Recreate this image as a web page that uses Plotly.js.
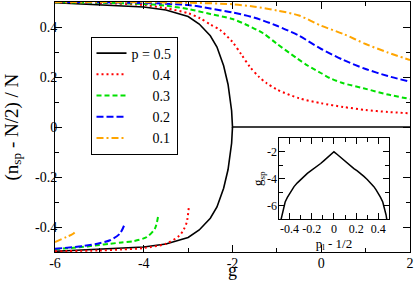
<!DOCTYPE html>
<html>
<head>
<meta charset="utf-8">
<script src="https://cdn.plot.ly/plotly-3.0.1.min.js"></script>
<style>html,body{margin:0;padding:0;background:#fff}#chart{width:415px;height:284px}</style>
</head>
<body>
<div id="chart"></div>
<script>
// ---- main panel: (n_sp - N/2)/N versus g ----
// p = 0.5 (black): upper branch, then zero line to g = 2
const gP05Upper = [-6, -5, -4.5, -4, -3.5, -3, -2.75, -2.5, -2.35, -2.2, -2.1, -2.05, -2.02, -2, 2];
const nP05Upper = [0.497, 0.49, 0.486, 0.48, 0.468, 0.442, 0.412, 0.365, 0.32, 0.245, 0.17, 0.115, 0.065, 0, 0];
const gP05Lower = [-6, -5, -4.5, -4, -3.5, -3, -2.75, -2.5, -2.35, -2.2, -2.1, -2.05, -2.02, -2];
const nP05Lower = [-0.497, -0.49, -0.486, -0.48, -0.468, -0.442, -0.412, -0.365, -0.32, -0.245, -0.17, -0.115, -0.065, 0];

// p = 0.4 (red dotted)
const gP04Upper = [-6, -5, -4, -3.5, -3, -2.73, -2.5, -2.28, -2, -1.8, -1.61, -1.4, -1.23, -1, -0.5, 0, 0.5, 1, 1.5, 2];
const nP04Upper = [0.499, 0.496, 0.488, 0.475, 0.455, 0.435, 0.41, 0.388, 0.34, 0.29, 0.241, 0.2, 0.175, 0.15, 0.115, 0.095, 0.08, 0.068, 0.06, 0.055];
const gP04Lower = [-6, -5, -4.5, -4, -3.5, -3.2, -3.1, -3.03, -2.98];
const nP04Lower = [-0.497, -0.494, -0.49, -0.484, -0.467, -0.435, -0.41, -0.38, -0.313];

// p = 0.3 (green dashed)
const gP03Upper = [-6, -5, -4, -3.5, -3, -2.5, -2, -1.7, -1.31, -1, -0.55, -0.3, 0, 0.2, 0.5, 0.95, 1.5, 2];
const nP03Upper = [0.499, 0.497, 0.492, 0.485, 0.472, 0.452, 0.432, 0.41, 0.375, 0.333, 0.275, 0.245, 0.215, 0.195, 0.175, 0.155, 0.13, 0.112];
const gP03Lower = [-6, -5.5, -5, -4.76, -4.5, -4.24, -3.93, -3.75, -3.67];
const nP03Lower = [-0.488, -0.482, -0.472, -0.467, -0.462, -0.457, -0.44, -0.407, -0.351];

// p = 0.2 (blue dashed)
const gP02Upper = [-6, -5, -4, -3, -2.5, -2, -1.5, -1, -0.5, 0, 0.5, 1, 1.5, 2];
const nP02Upper = [0.5, 0.499, 0.496, 0.488, 0.474, 0.458, 0.437, 0.405, 0.365, 0.312, 0.268, 0.232, 0.204, 0.181];
const gP02Lower = [-6, -5.36, -5, -4.76, -4.54, -4.42];
const nP02Lower = [-0.487, -0.476, -0.465, -0.453, -0.427, -0.384];

// p = 0.1 (orange dash-dot)
const gP01Upper = [-6, -4, -3, -2, -1.5, -1, -0.5, 0, 0.5, 1, 1.5, 2];
const nP01Upper = [0.5, 0.499, 0.497, 0.491, 0.481, 0.466, 0.446, 0.405, 0.372, 0.332, 0.298, 0.268];
const gP01Lower = [-6, -5.74, -5.6, -5.51];
const nP01Lower = [-0.46, -0.44, -0.428, -0.413];

// ---- inset: g_sp versus p - 1/2 ----
const pInset = [-0.478, -0.475, -0.47, -0.46, -0.45, -0.44, -0.42, -0.4, -0.38, -0.36, -0.33, -0.3, -0.27, -0.24, -0.21, -0.18, -0.15, -0.12, -0.09, -0.06, -0.03, 0,
                0.03, 0.06, 0.09, 0.12, 0.15, 0.18, 0.21, 0.24, 0.27, 0.3, 0.33, 0.36, 0.38, 0.4, 0.42, 0.44, 0.45, 0.46, 0.47, 0.475, 0.478];
const gInset = [-7.05, -6.95, -6.68, -6.3, -5.98, -5.72, -5.38, -5.08, -4.82, -4.58, -4.3, -4.05, -3.82, -3.6, -3.42, -3.25, -3.07, -2.87, -2.65, -2.42, -2.2, -2.0,
                -2.2, -2.42, -2.65, -2.87, -3.07, -3.25, -3.42, -3.6, -3.82, -4.05, -4.3, -4.58, -4.82, -5.08, -5.38, -5.72, -5.98, -6.3, -6.68, -6.95, -7.05];

// ---- labels ----
const seriesNames = ['p = 0.5', '\u2007\u2007\u20070.4', '\u2007\u2007\u20070.3', '\u2007\u2007\u20070.2', '\u2007\u2007\u20070.1'];
const xTitle = 'g';
const yTitle = '(n<sub>sp</sub> - N/2) / N';
const xTickVals = [-6, -4, -2, 0, 2];
const xTickText = ['-6', '-4', '-2', '0', '2'];
const yTickVals = [-0.4, -0.2, 0, 0.2, 0.4];
const yTickText = ['-0.4', '-0.2', '0', '0.2', '0.4'];
const insetXTickVals = [-0.4, -0.2, 0, 0.2, 0.4];
const insetXTickText = ['-0.4', '-0.2', '0', '0.2', '0.4'];
const insetYTickVals = [-6, -4, -2];
const insetYTickText = ['-6', '-4', '-2'];

const FONT = 'Liberation Serif, Times New Roman, serif';
const colors = ['#000000', '#ff0000', '#00e000', '#0000ff', '#ffa500'];
const dashes = ['solid', '2px,3px', '5px,3px', '7px,3px', '7px,3px,2px,3px'];
const widths = [1.6, 2, 2, 2, 2];

const uppers = [[gP05Upper, nP05Upper], [gP04Upper, nP04Upper], [gP03Upper, nP03Upper], [gP02Upper, nP02Upper], [gP01Upper, nP01Upper]];
const lowers = [[gP05Lower, nP05Lower], [gP04Lower, nP04Lower], [gP03Lower, nP03Lower], [gP02Lower, nP02Lower], [gP01Lower, nP01Lower]];

const traces = [];
uppers.forEach((s, i) => {
  traces.push({
    x: s[0], y: s[1], type: 'scatter', mode: 'lines', name: seriesNames[i],
    legendgroup: 'g' + i, showlegend: true,
    line: {color: colors[i], dash: dashes[i], width: widths[i], shape: i === 0 ? 'linear' : 'spline', smoothing: 0.8},
    xaxis: 'x', yaxis: 'y', hoverinfo: 'skip'
  });
});
lowers.forEach((s, i) => {
  traces.push({
    x: s[0], y: s[1], type: 'scatter', mode: 'lines', name: seriesNames[i],
    legendgroup: 'g' + i, showlegend: false,
    line: {color: colors[i], dash: dashes[i], width: widths[i], shape: i === 0 ? 'linear' : 'spline', smoothing: 0.8},
    xaxis: 'x', yaxis: 'y', hoverinfo: 'skip'
  });
});
traces.push({
  x: pInset, y: gInset, type: 'scatter', mode: 'lines', showlegend: false,
  line: {color: '#000000', width: 1.5, shape: 'linear'},
  xaxis: 'x2', yaxis: 'y2', hoverinfo: 'skip'
});

const axBase = {
  showline: true, linecolor: '#000', linewidth: 1, mirror: 'allticks',
  ticks: 'inside', tickcolor: '#000', tickwidth: 1,
  showgrid: false, zeroline: false, tickmode: 'array',
  tickfont: {family: FONT, size: 14, color: '#000'}
};

const layout = {
  width: 415, height: 284,
  margin: {l: 55, r: 5, t: 2, b: 32},
  paper_bgcolor: '#fff', plot_bgcolor: '#fff',
  font: {family: FONT, color: '#000'},
  showlegend: true,
  legend: {
    x: 0.1, y: 0.862, xanchor: 'left', yanchor: 'top',
    bgcolor: '#fff', bordercolor: '#000', borderwidth: 1,
    font: {family: FONT, size: 14, color: '#000'},
    itemwidth: 30, tracegroupgap: 0
  },
  annotations: [
    {text: xTitle, xref: 'paper', yref: 'paper', x: 0.5, y: -0.12, xanchor: 'center', yanchor: 'bottom',
     showarrow: false, font: {family: FONT, size: 18, color: '#000'}},
    {text: yTitle, xref: 'paper', yref: 'paper', x: -0.1197, y: 0.5, xanchor: 'center', yanchor: 'middle',
     textangle: -90, showarrow: false, font: {family: FONT, size: 19, color: '#000'}}
  ],
  xaxis: Object.assign({}, axBase, {
    domain: [0, 1], range: [-6, 2], tickvals: xTickVals, ticktext: xTickText, ticklen: 7,
    ticklabelstandoff: -2,
    minor: {dtick: 1, tick0: 0, ticklen: 4, ticks: 'inside', tickcolor: '#000'},
    anchor: 'y'
  }),
  yaxis: Object.assign({}, axBase, {
    domain: [0, 1], range: [-0.5, 0.5], tickvals: yTickVals, ticktext: yTickText, ticklen: 7,
    ticklabelstandoff: -6,
    minor: {dtick: 0.1, tick0: 0, ticklen: 4, ticks: 'inside', tickcolor: '#000'},
    anchor: 'x'
  }),
  xaxis2: Object.assign({}, axBase, {
    domain: [0.6296, 0.942], range: [-0.5, 0.5], tickvals: insetXTickVals, ticktext: insetXTickText, ticklen: 6,
    tickfont: {family: FONT, size: 12, color: '#000'},
    ticklabelstandoff: -2,
    minor: {dtick: 0.1, tick0: 0, ticklen: 4, ticks: 'inside', tickcolor: '#000'},
    title: {text: 'p<sub>l</sub> - 1/2', font: {family: FONT, size: 13, color: '#000'}, standoff: 2},
    anchor: 'y2'
  }),
  yaxis2: Object.assign({}, axBase, {
    domain: [0.1308, 0.4548], range: [-7, -1], tickvals: insetYTickVals, ticktext: insetYTickText, ticklen: 6,
    tickfont: {family: FONT, size: 12, color: '#000'},
    ticklabelstandoff: -2,
    minor: {dtick: 1, tick0: 0, ticklen: 4, ticks: 'inside', tickcolor: '#000'},
    title: {text: 'g<sub>sp</sub>', font: {family: FONT, size: 13, color: '#000'}, standoff: 0},
    anchor: 'x2'
  })
};

Plotly.newPlot('chart', traces, layout, {staticPlot: true, displayModeBar: false});
</script>
</body>
</html>
